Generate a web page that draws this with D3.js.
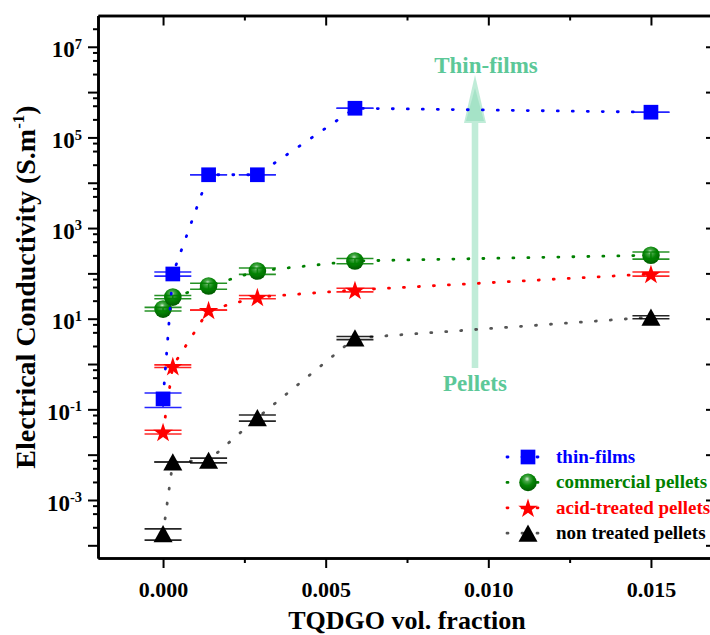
<!DOCTYPE html>
<html><head><meta charset="utf-8">
<script src="https://cdn.jsdelivr.net/npm/d3@7"></script>
<style>
body{margin:0;background:#fff}
svg{display:block}
text{font-family:"Liberation Serif","Times New Roman",serif;font-weight:bold}
</style>
</head><body>
<svg id="chart" width="710" height="635"></svg>
<script>
// ---------- data ----------
const xValues = [0, 0.0003, 0.0014, 0.0029, 0.0059, 0.015];
const seriesNames = ["thin-films", "commercial pellets", "acid-treated pellets", "non treated pellets"];
const thinFilms      = [0.17, 97, 1.5e4, 1.5e4, 4.4e5, 3.6e5];
const thinFilmsErr   = [0.06, 10, 0, 0, 0, 0];
const commercial     = [16.3, 30, 52.6, 113, 188, 251];
const commercialErr  = [1.5, 2.5, 8, 18, 25, 45];
const acidTreated    = [0.0316, 0.90, 15.5, 30, 43, 97];
const acidTreatedErr = [0.003, 0.06, 0, 2.5, 4, 10];
const nonTreated     = [1.8e-4, 0.0069, 0.0075, 0.065, 3.75, 10.8];
const nonTreatedErr  = [0.5e-4, 0, 0.0009, 0.01, 0.3, 0.8];
const xTickValues = [0, 0.005, 0.010, 0.015];
const xMinorTickValues = [0.0025, 0.0075, 0.0125];
const yLabelExponents = [-3, -1, 1, 3, 5, 7];
const yDecadeExponents = [-4, -3, -2, -1, 0, 1, 2, 3, 4, 5, 6, 7];
const yMinorMultipliers = [2.5, 5, 7.5];
const xTitle = "TQDGO vol. fraction";
const arrowTop = "Thin-films", arrowBottom = "Pellets";

// ---------- setup ----------
const svg = d3.select("#chart");
const L = 98, R = 716, T = 15.5, B = 558;
const x = d3.scaleLinear().domain([-0.002, 0.017]).range([L, R]);
const y = d3.scaleLog().domain([Math.pow(10, -4.28), Math.pow(10, 7.69)]).range([B, T]);

const defs = svg.append("defs");
const grad = defs.append("radialGradient").attr("id", "sphere")
  .attr("cx", "45%").attr("cy", "35%").attr("r", "65%").attr("fx", "45%").attr("fy", "30%");
grad.append("stop").attr("offset", "0%").attr("stop-color", "#d8f2d8");
grad.append("stop").attr("offset", "22%").attr("stop-color", "#4aa84a");
grad.append("stop").attr("offset", "55%").attr("stop-color", "#058505");
grad.append("stop").attr("offset", "100%").attr("stop-color", "#005a00");

const triangleSym = { draw(ctx) { ctx.moveTo(0, -8.7); ctx.lineTo(9.5, 8.5); ctx.lineTo(-9.5, 8.5); ctx.closePath(); } };

const series = [
  { name: seriesNames[3], vals: nonTreated,  err: nonTreatedErr,  line: "#555555", color: "#000000", kind: "tri" },
  { name: seriesNames[2], vals: acidTreated, err: acidTreatedErr, line: "#ff0000", color: "#ff0000", kind: "star" },
  { name: seriesNames[1], vals: commercial,  err: commercialErr,  line: "#008000", color: "#008000", kind: "sphere" },
  { name: seriesNames[0], vals: thinFilms,   err: thinFilmsErr,   line: "#0000ff", color: "#0000ff", kind: "square" }
];

function drawMarker(g, kind, color) {
  if (kind === "sphere") {
    g.append("circle").attr("r", 8.8).attr("fill", "url(#sphere)");
  } else if (kind === "square") {
    g.append("path").attr("d", d3.symbol(d3.symbolSquare, 216)()).attr("fill", color);
  } else if (kind === "star") {
    g.append("path").attr("d", d3.symbol(d3.symbolStar, 118)()).attr("fill", color).attr("transform", "translate(0,1)");
  } else {
    g.append("path").attr("d", d3.symbol(triangleSym, 1)()).attr("fill", color);
  }
}

// ---------- annotation arrow (behind data) ----------
const ann = svg.append("g");
const ax = 475;
ann.append("rect").attr("x", ax - 3.3).attr("y", 123).attr("width", 6.6).attr("height", 368 - 123)
  .attr("fill", "#3cc387").attr("opacity", 0.32);
ann.append("path").attr("d", `M${ax - 11},123 L${ax + 11},123 L${ax},75 Z`)
  .attr("fill", "#3cc387").attr("opacity", 0.32);
ann.append("path").attr("d", `M${ax - 9},121 L${ax + 9},121 L${ax},88 Z`)
  .attr("fill", "#3cc387").attr("opacity", 0.2);

// ---------- series ----------
const lineGen = d3.line().x((d, i) => x(xValues[i])).y(d => y(d));
series.forEach(s => {
  const g = svg.append("g");
  g.append("path").attr("d", lineGen(s.vals)).attr("fill", "none")
    .attr("stroke", s.line).attr("stroke-width", 2.8).attr("stroke-linecap", "round")
    .attr("stroke-dasharray", "1,14");
  s.vals.forEach((v, i) => {
    const px = x(xValues[i]), py = y(v);
    const mg = g.append("g").attr("transform", `translate(${px},${py})`);
    drawMarker(mg, s.kind, s.color);
  });
  s.vals.forEach((v, i) => {
    const px = x(xValues[i]);
    const e = s.err[i];
    const y1 = y(v + e), y2 = y(v - e);
    const eg = g.append("g").attr("stroke", s.color).attr("stroke-width", 1.6).attr("opacity", 0.85);
    eg.append("line").attr("x1", px).attr("x2", px).attr("y1", y1).attr("y2", y2);
    [y1, y2].forEach(yy => eg.append("line").attr("x1", px - 18.5).attr("x2", px + 18.5).attr("y1", yy).attr("y2", yy));
  });
});

// ---------- axes ----------
function styleAxis(g) {
  g.select(".domain").attr("stroke-width", 2.6).attr("stroke", "#000");
  g.selectAll(".tick line").attr("stroke-width", 2).attr("stroke", "#000");
  g.selectAll("text").remove();
}
const xb = svg.append("g").attr("transform", `translate(0,${B})`)
  .call(d3.axisBottom(x).tickValues(xTickValues).tickSize(10).tickSizeOuter(0).tickFormat(d3.format(".3f")));
xb.select(".domain").attr("stroke-width", 2.6);
xb.selectAll(".tick line").attr("stroke-width", 2);
xb.selectAll(".tick text").attr("font-size", 22).attr("fill", "#000").attr("y", 0).attr("dy", 0)
  .attr("transform", "translate(0,39)").style("font-family", '"Liberation Serif",serif').style("font-weight", "bold");
svg.append("g").attr("transform", `translate(0,${B})`)
  .call(d3.axisBottom(x).tickValues(xMinorTickValues).tickSize(5).tickSizeOuter(0).tickFormat(""))
  .call(styleAxis);
svg.append("g").attr("transform", `translate(0,${T})`)
  .call(d3.axisTop(x).tickValues(xTickValues).tickSize(-10).tickSizeOuter(0).tickFormat(""))
  .call(styleAxis);
svg.append("g").attr("transform", `translate(0,${T})`)
  .call(d3.axisTop(x).tickValues(xMinorTickValues).tickSize(-5).tickSizeOuter(0).tickFormat(""))
  .call(styleAxis);

const decades = yDecadeExponents.map(e => Math.pow(10, e));
const minors = [];
yDecadeExponents.forEach(e => yMinorMultipliers.forEach(m => {
  const v = m * Math.pow(10, e);
  if (v > y.domain()[0] && v < y.domain()[1]) minors.push(v);
}));
svg.append("g").attr("transform", `translate(${L},0)`)
  .call(d3.axisLeft(y).tickValues(decades).tickSize(10).tickSizeOuter(0).tickFormat(""))
  .call(styleAxis);
svg.append("g").attr("transform", `translate(${L},0)`)
  .call(d3.axisLeft(y).tickValues(minors).tickSize(5).tickSizeOuter(0).tickFormat(""))
  .call(styleAxis);
svg.append("g").attr("transform", `translate(${R},0)`)
  .call(d3.axisRight(y).tickValues(decades).tickSize(-10).tickSizeOuter(0).tickFormat(""))
  .call(styleAxis);

// y tick labels with superscripts
yLabelExponents.forEach(e => {
  const t = svg.append("text").attr("x", 82).attr("y", y(Math.pow(10, e)) + 10.6)
    .attr("text-anchor", "end").attr("font-size", 23).attr("fill", "#000");
  t.append("tspan").text("10");
  t.append("tspan").attr("dy", -8.5).attr("font-size", 14.5).text(String(e));
});

// axis titles
svg.append("text").attr("x", 407).attr("y", 629).attr("text-anchor", "middle")
  .attr("font-size", 26).attr("fill", "#000").text(xTitle);
const yt = svg.append("text").attr("transform", "translate(35,287) rotate(-90)")
  .attr("text-anchor", "middle").attr("font-size", 28).attr("fill", "#000");
yt.append("tspan").text("Electrical Conductivity (S.m");
yt.append("tspan").attr("dy", -11).attr("font-size", 17).text("-1");
yt.append("tspan").attr("dy", 11).text(")");

// annotation texts
svg.append("text").attr("x", 486).attr("y", 73).attr("text-anchor", "middle")
  .attr("font-size", 23).attr("fill", "#5cc898").text(arrowTop);
svg.append("text").attr("x", 475).attr("y", 391).attr("text-anchor", "middle")
  .attr("font-size", 23).attr("fill", "#5cc898").text(arrowBottom);

// ---------- legend ----------
const legendOrder = [3, 2, 1, 0];
const lg = svg.append("g");
legendOrder.forEach((si, r) => {
  const s = series[si];
  const cy = 457 + r * 25.4;
  lg.append("line").attr("x1", 507).attr("x2", 538).attr("y1", cy).attr("y2", cy)
    .attr("stroke", s.line).attr("stroke-width", 2.8).attr("stroke-linecap", "round").attr("stroke-dasharray", "1,14");
  const mg = lg.append("g").attr("transform", `translate(528,${cy})`);
  drawMarker(mg, s.kind, s.color);
  lg.append("text").attr("x", 556).attr("y", cy + 6).attr("font-size", 19)
    .attr("fill", s.color).text(s.name);
});
</script>
</body></html>
